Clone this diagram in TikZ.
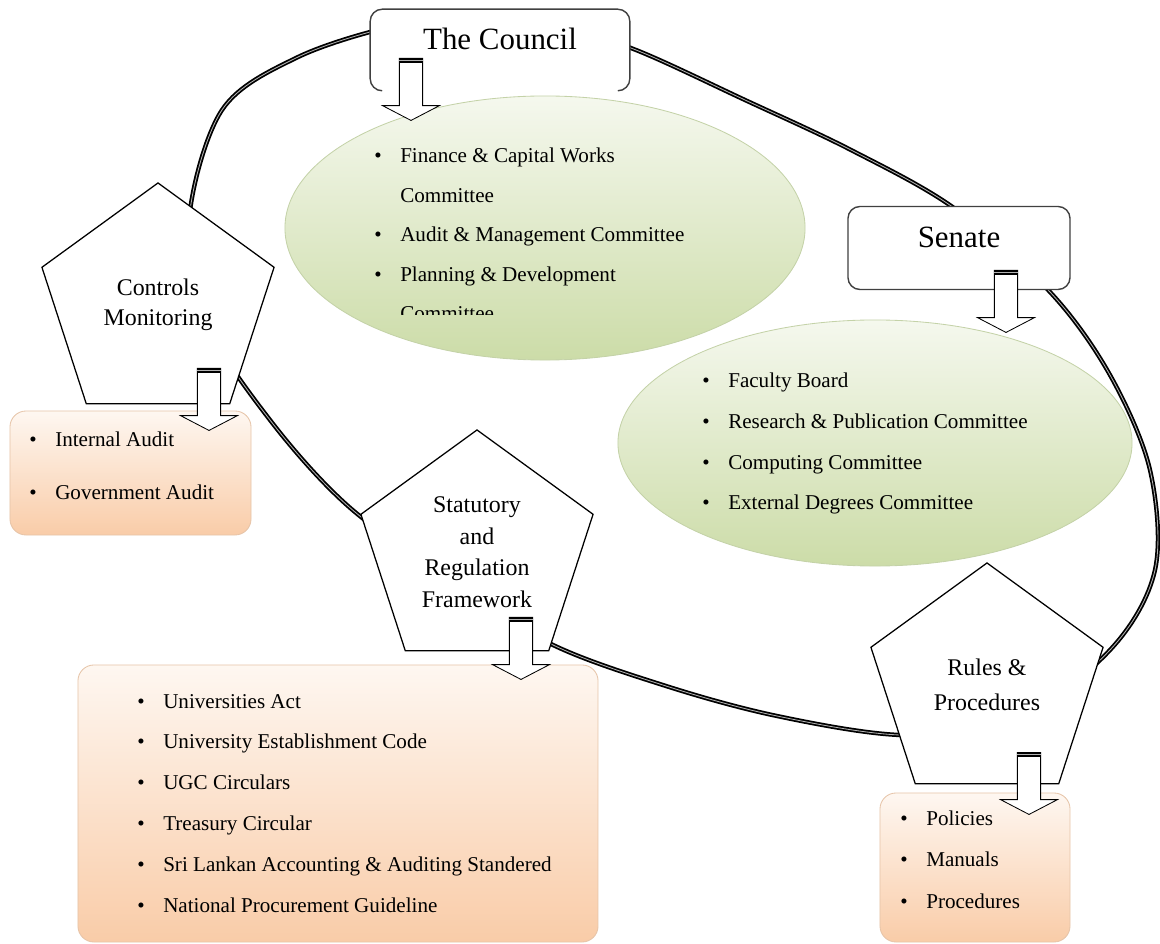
\documentclass[tikz,border=0pt]{standalone}
\usepackage{fontspec}
\setmainfont{Liberation Serif}
\usetikzlibrary{shapes.geometric}
\usetikzlibrary{shapes.arrows}

\definecolor{greenhi}{RGB}{245,248,238}
\definecolor{greenlo}{RGB}{204,220,168}
\definecolor{greenline}{RGB}{196,210,168}
\definecolor{orangehi}{RGB}{254,247,241}
\definecolor{orangelo}{RGB}{249,204,168}
\definecolor{orangeline}{RGB}{230,196,168}

\newcommand{\bul}{\makebox[0.65cm][l]{\textbullet}}
\newcommand{\ind}{\hspace*{0.65cm}}

\begin{document}
\begin{tikzpicture}[x=0.025cm, y=-0.025cm,
  loopline/.style={draw=black, line width=1.25pt, double=gray!60, double distance=0.6pt},
  boxline/.style={draw=black!75, line width=1pt, rounded corners=0.3cm},
  headbox/.style={rectangle, fill=white, rounded corners=0.3cm, font=\fontsize{22}{26}\selectfont, text height=0.45cm, text depth=0.45cm},
  pent/.style={regular polygon, regular polygon sides=5, draw=black, line width=0.9pt, fill=white, minimum size=6.1cm, inner sep=0, align=center, font=\fontsize{17}{22}\selectfont},
  greenell/.style={ellipse, draw=greenline, line width=0.6pt, top color=greenhi, bottom color=greenlo, inner sep=0},
  orangebox/.style={rectangle, rounded corners=0.4cm, draw=orangeline, line width=0.6pt, top color=orangehi, bottom color=orangelo, inner sep=0},
  list/.style={anchor=base west, align=left, inner sep=0, font=\fontsize{15}{29}\selectfont},
  blockarrow/.style={single arrow, draw=black, fill=white, line width=0.6pt, shape border rotate=270, inner sep=0.28cm, minimum height=1.55cm, single arrow head extend=0.42cm, single arrow tip angle=125},
  stripe/.style={draw=black, line width=1.3pt, double=gray!60, double distance=0.8pt, line cap=butt}]

\useasboundingbox (0,0) rectangle (1160,944);

\draw[loopline] plot[smooth cycle, tension=0.55] coordinates {(470,18) (560,27) (636,50) (745,100) (851,150) (954,208) (1050,292) (1110,375) (1150,470) (1155,570) (1110,650) (1010,725) (900,735) (777,716) (666,686) (551,644) (450,580) (348,506) (270,420) (205,320) (189,220) (222,110) (296,58) (390,27)};

\node[greenell, minimum width=13cm, minimum height=6.6cm] (cnlell) at (545,228) {};
\node[greenell, minimum width=12.85cm, minimum height=6.15cm] (senell) at (875,443) {};

\node[pent, font=\fontsize{17}{21}\selectfont] (ctrl) at (158,305) {Controls\\Monitoring};
\node[pent, font=\fontsize{17}{22.4}\selectfont] (stat) at (477,552) {Statutory\\and\\Regulation\\Framework};
\node[pent, font=\fontsize{17}{25}\selectfont] (rules) at (987,685) {Rules \&\\Procedures};

\node[orangebox, minimum width=6.025cm, minimum height=3.1cm] (ctrlbox) at (130.5,473) {};
\node[orangebox, minimum width=13cm, minimum height=6.925cm] (statbox) at (338,803.5) {};
\node[orangebox, minimum width=4.75cm, minimum height=3.725cm] (rulesbox) at (975,867.5) {};

\node[headbox, minimum width=6.475cm, minimum height=2.025cm] (cnl) at (500,50) {The Council};
\draw[boxline] ([xshift=0.3cm]cnl.south west) -- (cnl.south west) -- (cnl.north west) -- (cnl.north east) -- (cnl.south east) -- ([xshift=-0.3cm]cnl.south east);
\node[headbox, draw=black!75, line width=1pt, minimum width=5.55cm, minimum height=2.075cm] (sen) at (959,248) {Senate};

\begin{scope}
  \clip (280,90) rectangle (810,315);
  \node[list, font=\fontsize{15}{28.1}\selectfont] (cnltxt) at (374,321) {\bul Finance \& Capital Works\\ \ind Committee\\ \bul Audit \& Management Committee\\ \bul Planning \& Development\\ \ind Committee};
\end{scope}
\node[list] (sentxt) at (702,510) {\bul Faculty Board\\ \bul Research \& Publication Committee\\ \bul Computing Committee\\ \bul External Degrees Committee};
\node[list, font=\fontsize{15}{37.7}\selectfont] (ctrltxt) at (29,500) {\bul Internal Audit\\ \bul Government Audit};
\node[list] (stattxt) at (137,912) {\bul Universities Act\\ \bul University Establishment Code\\ \bul UGC Circulars\\ \bul Treasury Circular\\ \bul Sri Lankan Accounting \& Auditing Standered\\ \bul National Procurement Guideline};
\node[list, font=\fontsize{15}{29.5}\selectfont] (rulestxt) at (900,908) {\bul Policies\\ \bul Manuals\\ \bul Procedures};

\node[blockarrow, anchor=tail] (cnlarr) at (411,58) {};
\node[blockarrow, anchor=tail] (senarr) at (1006,270) {};
\node[blockarrow, anchor=tail] (ctrlarr) at (209,368) {};
\node[blockarrow, anchor=tail] (statarr) at (521,617) {};
\node[blockarrow, anchor=tail] (rulesarr) at (1029,752) {};
\foreach \a in {cnlarr,senarr,ctrlarr,statarr,rulesarr}
  \draw[stripe] ([yshift=-1.8pt]\a.before tail) -- ([yshift=-1.8pt]\a.after tail);

\end{tikzpicture}
\end{document}
